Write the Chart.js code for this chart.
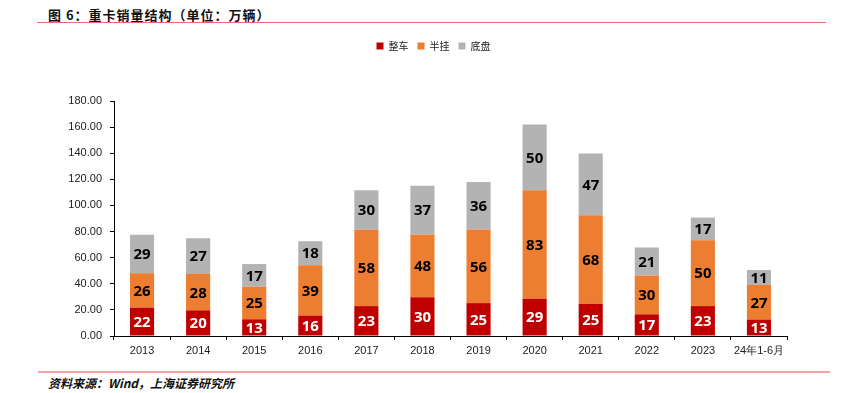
<!DOCTYPE html>
<html>
<head>
<meta charset="utf-8">
<script src="https://cdn.jsdelivr.net/npm/chart.js@4"></script>
<style>
  body { margin: 0; background: #fff; width: 843px; height: 393px; overflow: hidden; position: relative; }
  #title { position: absolute; left: 48px; top: 5px; font: bold 13px "Noto Sans CJK SC"; color: #111; letter-spacing: 1px; }
  #topLine { position: absolute; left: 37px; top: 22px; width: 789px; height: 1px; background: #EE6B6B; }
  #wrap { position: absolute; left: 0; top: 0; width: 843px; height: 362px; }
  #botLine { position: absolute; left: 38px; top: 371px; width: 792px; height: 2px; background: #F4A3A3; }
  #source { position: absolute; left: 48px; top: 374px; font: italic bold 12px "Noto Sans CJK SC"; color: #111; }
</style>
</head>
<body>
<div id="title">图 6：重卡销量结构（单位：万辆）</div>
<div id="topLine"></div>
<div id="wrap"><canvas id="chart"></canvas></div>
<div id="botLine"></div>
<div id="source">资料来源：Wind，上海证券研究所</div>
<script>
const categories = ["2013", "2014", "2015", "2016", "2017", "2018", "2019", "2020", "2021", "2022", "2023", "24年1-6月"];
const wholeTruck = [21.7, 19.6, 12.8, 15.6, 22.9, 29.6, 25.2, 28.6, 24.7, 16.6, 22.9, 12.6];
const semiTrailer = [26.4, 27.8, 24.9, 38.6, 58.4, 48.1, 56.3, 83.0, 67.7, 29.8, 50.4, 26.5];
const chassis = [29.4, 27.4, 17.4, 18.4, 30.4, 37.4, 36.4, 50.4, 47.4, 21.4, 17.4, 11.4];
const yTicks = [0, 20, 40, 60, 80, 100, 120, 140, 160, 180];

// extra room under the legend, and legend nudged right like the original
const legendGap = {
  id: "legendGap",
  beforeInit(chart) {
    const fit = chart.legend.fit;
    chart.legend.fit = function () {
      fit.call(this);
      this.height += 40;
    };
  },
  afterLayout(chart) {
    chart.legend.left += 40;
    chart.legend.right += 40;
  }
};

// labels in the middle of each segment, rounded to whole numbers
const segmentLabels = {
  id: "segmentLabels",
  afterDatasetsDraw(chart) {
    const ctx = chart.ctx;
    ctx.save();
    ctx.font = "bold 15px 'Noto Sans'";
    ctx.textAlign = "center";
    ctx.textBaseline = "middle";
    chart.data.datasets.forEach((ds, i) => {
      chart.getDatasetMeta(i).data.forEach((bar, j) => {
        ctx.fillStyle = i === 0 ? "#fff" : "#000";
        ctx.fillText(Math.round(ds.data[j]), bar.x, (bar.y + bar.base) / 2 + 1);
      });
    });
    ctx.restore();
  }
};

new Chart(document.getElementById("chart"), {
  type: "bar",
  data: {
    labels: categories,
    datasets: [
      { label: "整车", data: wholeTruck, backgroundColor: "#C00000" },
      { label: "半挂", data: semiTrailer, backgroundColor: "#ED7D31" },
      { label: "底盘", data: chassis, backgroundColor: "#B3B3B3" }
    ]
  },
  options: {
    responsive: true,
    maintainAspectRatio: false,
    animation: false,
    datasets: { bar: { categoryPercentage: 1, barPercentage: 0.43 } },
    layout: { padding: { top: 32, right: 56, left: 0, bottom: 0 } },
    plugins: {
      tooltip: { enabled: false },
      legend: {
        position: "top",
        labels: {
          boxWidth: 7, boxHeight: 7, padding: 9, color: "#222",
          font: { family: "'Noto Sans CJK SC'", size: 10 }
        }
      }
    },
    scales: {
      x: {
        stacked: true,
        afterFit: s => { s.height = 26; },
        grid: { offset: true, drawOnChartArea: false, tickLength: 4, color: "#000" },
        border: { color: "#000" },
        ticks: {
          color: "#222", padding: 4, maxRotation: 0, autoSkip: false,
          font: { family: "'Liberation Sans'", size: 11 }
        }
      },
      y: {
        stacked: true,
        min: 0, max: 180,
        afterFit: s => { s.width = 114; },
        afterBuildTicks: s => { s.ticks = yTicks.map(v => ({ value: v })); },
        grid: { drawOnChartArea: false, tickLength: 4, color: "#000" },
        border: { color: "#000" },
        ticks: {
          color: "#222", padding: 8,
          font: { family: "'Liberation Sans'", size: 11 },
          callback: v => v.toFixed(2)
        }
      }
    }
  },
  plugins: [legendGap, segmentLabels]
});
</script>
</body>
</html>
